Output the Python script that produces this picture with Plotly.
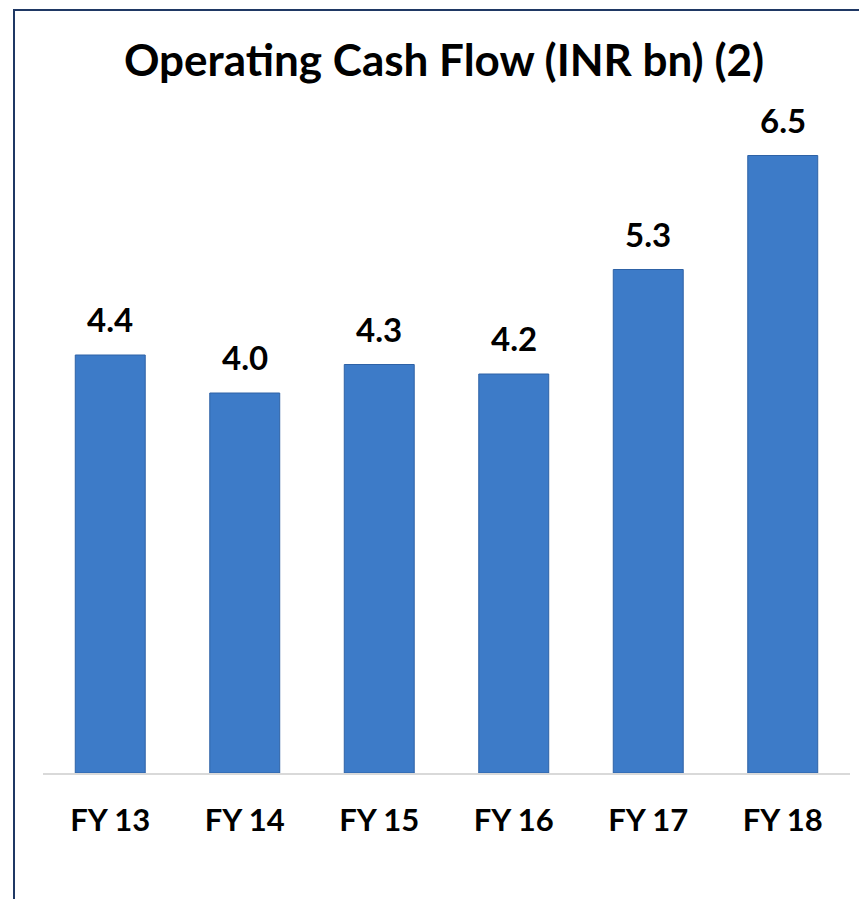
import plotly.graph_objects as go

categories = ["FY 13", "FY 14", "FY 15", "FY 16", "FY 17", "FY 18"]
values = [4.4, 4.0, 4.3, 4.2, 5.3, 6.5]
labels = ["4.4", "4.0", "4.3", "4.2", "5.3", "6.5"]
title_text = "Operating Cash Flow (INR bn) (2)"

FONT = "Lato"
W, H = 867, 899
OFF = 8  # page body margin
ML = 43 - OFF
PLOT_R = 850 - OFF
MR = W - PLOT_R
MT = 100 - OFF
BASE = 773 - OFF
MB = H - BASE
plot_h = BASE - MT
px_per_unit = 95
ymax = plot_h / px_per_unit

fig = go.Figure()
fig.add_trace(go.Bar(
    x=categories, y=values,
    width=0.52,
    marker=dict(color="#3D7BC8", line=dict(color="#2E62A6", width=1)),
    hoverinfo="skip",
))

for c, v, t in zip(categories, values, labels):
    fig.add_annotation(x=c, y=v, text=t, showarrow=False, yanchor="bottom",
                       yshift=14, font=dict(family=FONT, size=33, color="black", weight="bold"))

# outer frame (navy border)
fig.add_shape(type="rect", xref="paper", yref="paper",
              x0=(14 - OFF - ML) / (W - ML - MR), x1=1.3,
              y0=-0.5, y1=(BASE - (10 - OFF)) / plot_h,
              line=dict(color="#1F3864", width=2), fillcolor="rgba(0,0,0,0)", layer="below")

fig.update_layout(
    width=W, height=H,
    margin=dict(l=ML, r=MR, t=MT, b=MB),
    paper_bgcolor="white", plot_bgcolor="white",
    showlegend=False,
    title=dict(text=title_text, x=(444 - OFF) / W, xanchor="center", y=1 - (61 - OFF) / H, yanchor="middle",
               yref="container",
               font=dict(family=FONT, size=44, color="black", weight="bold")),
    xaxis=dict(showline=True, linecolor="#D9D9D9", linewidth=2, showgrid=False,
               ticks="outside", ticklen=19, tickcolor="rgba(0,0,0,0)",
               tickfont=dict(family=FONT, size=31, color="black", weight="bold")),
    yaxis=dict(range=[0, ymax], visible=False, showgrid=False, zeroline=False),
)

fig.write_html("out.html")
